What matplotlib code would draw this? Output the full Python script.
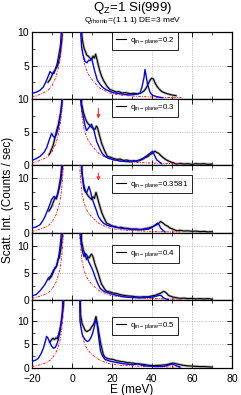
import numpy as np
import matplotlib
matplotlib.use('Agg')
import matplotlib.pyplot as plt
from matplotlib.ticker import MultipleLocator

plt.rcParams['font.family'] = ['Liberation Sans', 'DejaVu Sans']
plt.rcParams['mathtext.default'] = 'regular'

# q values of the five panels
q_labels = ['0.2', '0.3', '0.3581', '0.4', '0.5']
y_tops = [10, 10, 12.4, 12.4, 14.4]

# elastic tail (red dash-dot), same in all panels
E_red = [-20, -18, -16, -14, -12, -10, -8, -7, -6, -5, -4.5, -3.5, 3.5, 4, 4.5, 5, 6, 7, 8, 9, 10,
         12, 14, 16, 18, 20, 25, 30, 35, 40, 45, 50, 55]
I_red = [0.3, 0.45, 0.7, 0.95, 1.3, 2.0, 3.3, 4.4, 5.8, 8.5, 11, 40, 40, 11, 9, 7.2, 5.5, 4.5, 3.8, 3.3, 2.9,
         2.2, 1.6, 1.3, 1.0, 0.8, 0.55, 0.45, 0.35, 0.3, 0.25, 0.2, 0.18]

# panel 1, q = 0.2
E_blue1 = [-20, -18, -16, -14.3, -12.7, -11.5, -11, -10, -9, -8.5, -7.5, -6.8, -6, -5.7, -5, -4,
           3.5, 4.2, 4.8, 5.5, 6.5, 7.5, 8.3, 9, 9.8, 10.5, 11.5, 12.7, 14, 15.5, 17.3, 20, 22.3, 26, 29,
           32, 34, 35, 36, 36.5, 37, 37.7, 39, 40, 42.3, 45]
I_blue1 = [0.85, 1.0, 1.3, 1.8, 2.8, 3.7, 4.1, 3.8, 3.8, 4.3, 5.2, 6.3, 7.6, 8.3, 12, 40,
           40, 11, 7.8, 6.6, 5.6, 5.4, 5.8, 5.7, 6.1, 5.2, 4.0, 2.8, 2.2, 1.7, 1.35, 1.0, 0.85, 0.7, 0.6,
           0.7, 0.9, 1.8, 3.2, 4.4, 3.6, 2.3, 1.0, 0.6, 0.35, 0.2]
E_data1 = [-12, -11, -10.2, -9.5, -8.5, -7.5, -6.8, -6, -5.2, -4.5, -3.5,
           3.5, 4.5, 5.2, 6, 6.8, 7.5, 8.2, 9, 9.8, 10.5, 11.2, 11.8, 12.5, 13.2, 14, 14.8, 15.7, 16.5,
           17.5, 19, 20.5, 22, 23.5, 25, 27, 29, 31, 33, 34.5, 36, 37, 38, 39, 39.8, 40.7, 41.5, 42.5,
           43.5, 45, 46.5, 48, 50, 52]
I_data1 = [2.5, 2.9, 3.4, 3.9, 4.3, 4.8, 5.4, 6.6, 8.5, 11, 40,
           40, 11, 8.8, 7.6, 7.0, 6.5, 6.4, 6.1, 5.9, 6.4, 6.1, 6.7, 5.9, 5.0, 4.1, 3.4, 2.8, 2.4,
           1.9, 1.4, 1.25, 1.05, 1.1, 0.9, 0.95, 0.8, 0.85, 0.75, 0.9, 1.2, 1.6, 2.2, 2.8, 3.1, 3.0, 2.4, 1.9,
           1.5, 1.1, 0.9, 0.75, 0.6, 0.5]

# panel 2, q = 0.3
E_blue2 = [-20, -18, -16, -14, -12.7, -11.5, -10.2, -9.3, -8.5, -7.7, -7, -6.3, -5.6, -5, -4.3, -3.5,
           3.5, 4.3, 5, 5.7, 6.5, 7.3, 8.5, 9.8, 11, 12.3, 14, 15, 16.5, 18.5, 20.7, 24, 27.3, 30, 32,
           34, 36, 38.2, 39.5, 40.3, 41.2, 42.3, 44.8]
I_blue2 = [0.7, 0.95, 1.3, 1.9, 2.6, 3.7, 4.8, 4.3, 4.2, 4.7, 5.5, 6.5, 8.0, 9.8, 13, 40,
           40, 9.8, 8.3, 7.2, 6.0, 5.2, 5.7, 6.2, 5.2, 3.6, 2.4, 1.8, 1.3, 1.0, 0.8, 0.6, 0.5, 0.5, 0.6,
           0.8, 1.1, 1.6, 1.9, 2.1, 1.5, 0.8, 0.2]
E_data2 = [-11.5, -11, -10.2, -9.3, -8.5, -7.7, -6.8, -6, -5.2, -4.5, -3.5,
           3.5, 4.8, 5.7, 6.5, 7.3, 8.2, 9, 9.8, 10.7, 11.5, 12.2, 12.7, 13.3, 14, 14.8, 15.7, 16.7,
           17.7, 19, 20.7, 22.5, 24, 25.7, 27.5, 29, 31, 32.3, 34, 35.5, 36.5, 38, 39, 39.8, 40.7, 41.5,
           42.3, 43.2, 44.5, 45.7, 47, 49, 50.5, 52.3, 54, 56, 58, 60, 62, 64, 66, 68, 70]
I_data2 = [1.6, 1.8, 2.4, 3.1, 4.2, 5.2, 6.2, 7.4, 8.8, 11, 40,
           40, 9.3, 8.0, 7.2, 6.6, 6.2, 6.0, 5.7, 5.5, 5.4, 5.9, 5.7, 5.0, 4.2, 3.3, 2.6, 1.9,
           1.3, 1.2, 1.0, 0.85, 0.9, 0.7, 0.75, 0.6, 0.65, 0.55, 0.7, 0.9, 1.1, 1.3, 1.6, 1.7, 1.9, 2.1,
           1.9, 1.8, 1.4, 1.1, 0.8, 0.5, 0.35, 0.15, 0.25, 0.15, 0.2, 0.1, 0.2, 0.15, 0.2, 0.1, 0.15]

# panel 3, q = 0.3581
E_blue3 = [-20, -18, -16, -14.5, -13.5, -12.5, -11.8, -10.2, -9, -8, -7.3, -6.8, -6, -5.5, -4.8, -3.5,
           3.5, 4.8, 5.5, 6, 6.7, 7.3, 8, 8.5, 9.2, 9.8, 10.5, 11.5, 12.3, 13.2, 14.5, 15.7, 17.5, 19.8,
           22.5, 25.7, 29, 32.3, 35, 38.2, 39.5, 40.7, 41.7, 42.7, 43.5, 44.3, 45.5, 46.5]
I_blue3 = [0.9, 1.1, 1.5, 2.3, 3.0, 3.9, 4.5, 6.1, 6.7, 6.4, 7.0, 7.9, 9.5, 10.9, 14, 40,
           40, 11.5, 9.5, 7.9, 7.5, 7.3, 8.0, 8.5, 7.6, 6.7, 5.8, 4.8, 4.0, 3.0, 2.3, 1.8, 1.4, 1.2,
           1.0, 0.8, 0.7, 0.6, 0.6, 0.7, 0.9, 1.2, 1.5, 1.8, 1.5, 0.9, 0.5, 0.2]
E_data3 = [-11.5, -10.2, -9.5, -8.5, -7.8, -7, -6.3, -5.5, -4.8, -3.5,
           3.5, 5, 5.7, 6.5, 7.3, 8.2, 9, 9.8, 10.5, 11.2, 12.0, 12.5, 13.2, 14, 14.8, 15.7, 16.5,
           17.3, 18.5, 20, 21.5, 23, 24.5, 26, 28, 30, 32, 34, 36, 38, 39, 40.5, 42.3, 43.5, 44.3,
           45.5, 46.5, 48, 49, 50.5, 52.3, 54, 56, 58, 60, 62, 64, 66, 68, 70]
I_data3 = [4.0, 4.8, 5.5, 6.4, 6.2, 7.3, 8.3, 9.7, 12, 40,
           40, 10.9, 9.0, 7.9, 7.2, 6.7, 6.4, 6.1, 6.6, 6.3, 7.4, 6.8, 5.8, 4.8, 3.8, 3.0, 2.4,
           1.8, 1.6, 1.3, 1.2, 1.0, 1.05, 0.9, 0.85, 0.7, 0.75, 0.65, 0.75, 0.9, 1.0, 1.2, 1.5, 1.8, 2.1,
           1.8, 1.5, 1.2, 0.9, 0.7, 0.4, 0.5, 0.35, 0.4, 0.3, 0.35, 0.25, 0.3, 0.2, 0.25]

# panel 4, q = 0.4
E_blue4 = [-20, -18, -16, -14.5, -13.5, -12.5, -11.8, -10.7, -9.3, -8, -7.3, -6.8, -6.2, -5.7, -5, -3.5,
           3.5, 4, 4.6, 5.2, 6, 6.8, 7.5, 8.2, 9, 9.8, 10.7, 11.5, 12.7, 14, 15.5, 17.3, 19, 20.7, 23,
           25.7, 30, 34, 37.5, 40.7, 42.5, 44, 45, 45.7, 47, 48.2]
I_blue4 = [0.75, 1.0, 1.7, 2.4, 2.9, 3.6, 4.1, 4.4, 5.5, 6.0, 6.8, 7.8, 9.2, 10.9, 14, 40,
           40, 12.2, 10.5, 9.0, 8.0, 8.6, 8.3, 7.2, 6.6, 6.0, 5.2, 4.3, 3.2, 2.2, 1.7, 1.4, 1.2, 1.0, 0.8,
           0.6, 0.45, 0.4, 0.45, 0.55, 0.75, 0.9, 0.7, 0.4, 0.2, 0.05]
E_data4 = [-11.5, -10.2, -9.3, -8.5, -7.7, -7, -6.3, -5.5, -4.8, -3.5,
           3.5, 4.8, 5.7, 6.5, 7.3, 8, 8.7, 9.3, 9.8, 10.5, 11.5, 12.3, 13.2, 14, 14.8, 15.7, 16.5,
           17.5, 19, 20.5, 22.3, 24, 26, 28, 30, 32, 34, 36, 38, 40, 42, 43, 44, 45, 45.7, 46.5, 47.5,
           48.2, 50, 52.3, 54, 56, 58, 60, 62, 64, 66, 68, 70]
I_data4 = [3.8, 4.4, 5.2, 6.0, 6.3, 7.5, 7.8, 9.7, 12, 40,
           40, 10.9, 9.2, 8.5, 7.5, 8.0, 7.8, 8.3, 8.5, 8.0, 6.6, 5.8, 4.8, 3.8, 2.9, 2.4, 1.9,
           1.6, 1.5, 1.3, 1.2, 1.0, 0.85, 0.75, 0.7, 0.6, 0.55, 0.6, 0.6, 0.75, 0.9, 1.1, 1.2, 1.4, 1.6, 1.5, 1.2,
           0.85, 0.6, 0.4, 0.3, 0.35, 0.25, 0.3, 0.2, 0.25, 0.2, 0.25, 0.15]

# panel 5, q = 0.5
E_blue5 = [-20, -18, -16.8, -15.5, -14.3, -13.5, -12.7, -12, -11.3, -10.3, -9.3, -8.5, -7.7, -7, -6,
           -5.3, -4.8, -3.5, 3.2, 4, 4.6, 5.2, 6.5, 7.7, 8.5, 9.3, 10.2, 11, 11.5, 12, 12.6, 13.2, 13.8,
           14.3, 15.3, 16.5, 18.5, 20.7, 23, 25.7, 28, 30.7, 32, 33, 34, 35.7, 38, 42.3, 46, 47.5, 49,
           50.5, 52, 54]
I_blue5 = [1.4, 1.7, 2.1, 3.0, 4.2, 5.4, 6.7, 6.3, 5.6, 4.7, 4.2, 4.3, 4.9, 5.8, 7.7,
           10, 12, 40, 40, 9.9, 8.3, 7.0, 6.0, 5.6, 5.8, 6.3, 7.2, 8.5, 9.5, 10.2, 9.2, 7.0, 5.0,
           3.5, 2.5, 1.8, 1.5, 1.3, 1.1, 0.9, 0.8, 0.7, 0.8, 0.9, 0.7, 0.5, 0.4, 0.3, 0.35, 0.5, 0.7,
           0.8, 0.5, 0.2]
E_data5 = [-11, -10.2, -9.5, -8.8, -8, -7.3, -6.8, -6, -5.3, -4.8, -4.2, -3.5,
           3.2, 4.3, 5, 5.7, 6.5, 7.3, 8.2, 9, 9.8, 10.7, 11.3, 12, 12.5, 13.2, 13.8, 14.5, 15.7, 16.5,
           17.7, 19, 20.5, 22, 24, 26, 27.5, 29, 31, 32.5, 34, 36, 38, 40.7, 43, 45, 47.3, 49, 50.7, 52,
           54, 56, 58, 60, 62, 64, 66, 68, 70]
I_data5 = [5.5, 6.0, 6.3, 6.0, 6.4, 6.2, 7.0, 8.2, 9.9, 11.5, 13.4, 40,
           40, 11.3, 9.5, 8.8, 8.0, 7.7, 7.9, 8.1, 8.7, 9.2, 9.8, 10.9, 9.8, 8.1, 6.5, 4.9, 2.8, 2.3,
           2.0, 1.9, 1.8, 1.6, 1.4, 1.3, 1.15, 1.1, 1.0, 0.9, 0.85, 0.75, 0.6, 0.5, 0.55, 0.6, 0.7, 0.9, 1.05, 0.9,
           0.7, 0.55, 0.45, 0.4, 0.35, 0.3, 0.3, 0.25, 0.2]

# red arrows (panel index, energy, start, tip)
arrow_panel = [1, 2]
arrow_E = [13.2, 13.2]
arrow_from = [9.0, 11.4]
arrow_to = [6.6, 9.0]

# legend positions (axes fraction, upper left corner)
legend_xy = [(0.40, 1.0), (0.40, 1.0), (0.40, 0.85), (0.40, 0.82), (0.40, 0.75)]

E_blue = [E_blue1, E_blue2, E_blue3, E_blue4, E_blue5]
I_blue = [I_blue1, I_blue2, I_blue3, I_blue4, I_blue5]
E_data = [E_data1, E_data2, E_data3, E_data4, E_data5]
I_data = [I_data1, I_data2, I_data3, I_data4, I_data5]

W, H = 241, 395
fig = plt.figure(figsize=(W / 100, H / 100), dpi=100)

tops = [32, 99, 165, 233, 300]
bottoms = [99, 165, 233, 300, 368]
left, right = 32, 232

for i in range(5):
    ax = fig.add_axes([left / W, 1 - bottoms[i] / H, (right - left) / W, (bottoms[i] - tops[i]) / H])
    ax.plot(E_data[i], I_data[i], color='0.55', lw=2.0, alpha=0.6, zorder=2)
    line, = ax.plot(E_data[i], I_data[i], color='black', lw=0.8, zorder=3,
                    label=r'q$_{in-plane}$=' + q_labels[i])
    ax.plot(E_red, I_red, color='red', lw=0.6, linestyle=(0, (3, 1.5, 1, 1.5)), zorder=3)
    ax.plot(E_blue[i], I_blue[i], color='#0000ff', lw=1.0, zorder=4)

    ax.set_xlim(-20, 80)
    ax.set_ylim(0, y_tops[i])
    ax.xaxis.set_major_locator(MultipleLocator(20))
    ax.xaxis.set_minor_locator(MultipleLocator(10))
    ax.set_yticks([0, 5, 10])
    ax.yaxis.set_minor_locator(MultipleLocator(2.5))
    ax.tick_params(which='both', direction='in', top=True, right=True, labelsize=7.5)
    ax.tick_params(axis='y', pad=2)
    ax.tick_params(axis='x', pad=4)
    ax.tick_params(which='major', length=3.5, width=0.6)
    ax.tick_params(which='minor', length=2, width=0.5)
    ax.grid(True, which='major', color='0.6', linestyle=(0, (1, 1.5)), lw=0.5)
    for s in ax.spines.values():
        s.set_linewidth(0.9)
    if i == 0:
        ax.set_yticklabels(['', '5', '10'])
    if i < 4:
        ax.tick_params(labelbottom=False)
    else:
        ax.set_xlabel('E (meV)', fontsize=8.5, labelpad=0.5)

    leg = ax.legend(handles=[line], loc='upper left', bbox_to_anchor=legend_xy[i], fontsize=5.7,
                    frameon=True, fancybox=False, edgecolor='black', framealpha=1,
                    handlelength=1.3, handletextpad=0.5, borderpad=0.45, borderaxespad=0)
    leg.get_frame().set_linewidth(0.6)

    for k in range(len(arrow_panel)):
        if arrow_panel[k] == i:
            ax.annotate('', xy=(arrow_E[k], arrow_to[k]), xytext=(arrow_E[k], arrow_from[k]),
                        arrowprops=dict(arrowstyle='-|>', color='#ff3030', lw=0.8, mutation_scale=5),
                        zorder=5)

fig.text(0.55, 1 - 8 / H, r'Q$_Z$=1 Si(999)', ha='center', va='center', fontsize=9.5)
fig.text(0.55, 1 - 20 / H, r'Q$_{rhomb}$=(1 1 1) DE=3 meV', ha='center', va='center', fontsize=6)
fig.text(8 / W, 1 - 200 / H, 'Scatt. Int. (Counts / sec)', rotation=90, ha='center', va='center',
         fontsize=8.5)

fig.savefig('out.png', dpi=100)
